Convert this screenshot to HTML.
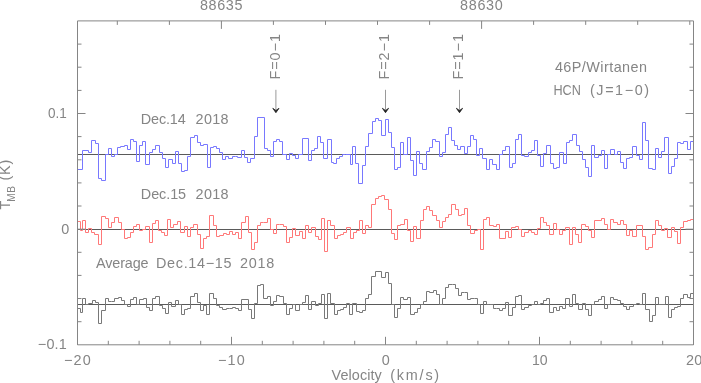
<!DOCTYPE html>
<html><head><meta charset="utf-8"><style>
html,body{margin:0;padding:0;background:#fff;}
body{width:701px;height:383px;overflow:hidden;}
svg{display:block;}
</style></head><body>
<svg width="701" height="383" viewBox="0 0 701 383"><rect width="701" height="383" fill="#fff"/><path d="M77.5,154.5H693.5M77.5,229.5H693.5M77.5,304.5H693.5" stroke="#5a5a5a" stroke-width="1" fill="none"/><path d="M77.5,169.5H82.5V150.5H88.5V152.5H91.5V140.5H95.5V143.5H98.5V178.5H101.5V180.5H105.5V154.5H108.5V148.5H111.5V156.5H114.5V154.5H117.5V147.5H120.5V146.5H124.5V145.5H127.5V149.5H130.5V139.5H133.5V141.5H136.5V161.5H139.5V145.5H142.5V141.5H145.5V164.5H149.5V152.5H152.5V149.5H155.5V145.5H159.5V152.5H162.5V158.5H165.5V167.5H168.5V159.5H172.5V163.5H175.5V151.5H178.5V163.5H181.5V171.5H184.5V170.5H187.5V156.5H190.5V137.5H194.5V135.5H197.5V142.5H200.5V145.5H203.5V144.5H207.5V167.5H210.5V147.5H213.5V146.5H216.5V148.5H219.5V152.5H222.5V159.5H225.5V156.5H228.5V158.5H232.5V156.5H235.5V156.5H237.5V157.5H241.5V150.5H244.5V157.5H247.5V162.5H250.5V158.5H254.5V136.5H257.5V117.5H264.5V148.5H267.5V150.5H270.5V156.5H273.5V141.5H276.5V139.5H279.5V141.5H282.5V154.5H286.5V159.5H289.5V153.5H292.5V155.5H295.5V158.5H298.5V154.5H302.5V138.5H308.5V160.5H311.5V150.5H314.5V148.5H317.5V136.5H320.5V142.5H323.5V158.5H327.5V139.5H331.5V162.5H333.5V163.5H336.5V158.5H339.5V156.5H342.5V154.5H345.5V154.5H350.5V164.5H352.5V146.5H355.5V163.5H358.5V183.5H362.5V165.5H365.5V146.5H368.5V133.5H372.5V121.5H375.5V118.5H378.5V120.5H381.5V135.5H385.5V119.5H388.5V132.5H391.5V147.5H394.5V169.5H397.5V167.5H400.5V142.5H403.5V154.5H407.5V137.5H410.5V160.5H413.5V175.5H416.5V151.5H419.5V163.5H422.5V169.5H426.5V151.5H429.5V147.5H432.5V139.5H435.5V141.5H439.5V156.5H442.5V152.5H445.5V134.5H448.5V127.5H451.5V140.5H454.5V145.5H457.5V149.5H460.5V146.5H464.5V153.5H467.5V146.5H470.5V135.5H473.5V139.5H476.5V155.5H479.5V148.5H482.5V158.5H486.5V169.5H489.5V159.5H492.5V164.5H496.5V169.5H499.5V154.5H502.5V150.5H505.5V146.5H509.5V167.5H512.5V163.5H515.5V139.5H518.5V134.5H521.5V155.5H524.5V156.5H528.5V152.5H531.5V150.5H534.5V140.5H537.5V155.5H540.5V166.5H543.5V153.5H546.5V145.5H550.5V163.5H553.5V168.5H556.5V167.5H559.5V152.5H563.5V163.5H566.5V142.5H569.5V140.5H572.5V134.5H576.5V145.5H579.5V151.5H582.5V159.5H585.5V167.5H588.5V176.5H591.5V145.5H594.5V157.5H598.5V155.5H601.5V150.5H604.5V168.5H607.5V154.5H610.5V149.5H614.5V154.5H617.5V151.5H620.5V162.5H623.5V168.5H626.5V158.5H629.5V157.5H632.5V146.5H636.5V155.5H639.5V159.5H642.5V122.5H645.5V140.5H648.5V168.5H652.5V169.5H655.5V148.5H658.5V157.5H661.5V151.5H664.5V137.5H668.5V173.5H671.5V166.5H674.5V158.5H677.5V142.5H680.5V143.5H683.5V141.5H687.5V149.5H690.5V141.5H693.5" stroke="#7878ff" stroke-width="1" fill="none"/><path d="M77.5,221.5H80.5V230.5H82.5V220.5H85.5V232.5H88.5V228.5H91.5V232.5H94.5V234.5H98.5V244.5H101.5V216.5H105.5V218.5H108.5V227.5H111.5V222.5H114.5V217.5H118.5V222.5H121.5V229.5H124.5V238.5H127.5V237.5H130.5V232.5H133.5V226.5H136.5V224.5H139.5V230.5H142.5V229.5H145.5V226.5H149.5V242.5H152.5V223.5H155.5V220.5H158.5V230.5H161.5V232.5H164.5V235.5H167.5V219.5H170.5V227.5H173.5V224.5H177.5V221.5H180.5V232.5H184.5V226.5H187.5V236.5H190.5V227.5H193.5V224.5H197.5V234.5H200.5V248.5H203.5V238.5H206.5V236.5H209.5V215.5H213.5V225.5H216.5V236.5H219.5V235.5H223.5V233.5H226.5V234.5H229.5V231.5H232.5V234.5H235.5V232.5H238.5V238.5H241.5V222.5H245.5V216.5H248.5V232.5H251.5V249.5H254.5V242.5H257.5V225.5H260.5V222.5H263.5V222.5H267.5V218.5H270.5V229.5H273.5V233.5H276.5V224.5H279.5V224.5H283.5V226.5H286.5V242.5H289.5V237.5H292.5V228.5H295.5V235.5H299.5V231.5H302.5V238.5H305.5V225.5H308.5V232.5H311.5V227.5H315.5V236.5H318.5V239.5H321.5V218.5H324.5V251.5H327.5V220.5H330.5V225.5H334.5V238.5H337.5V235.5H340.5V234.5H343.5V232.5H346.5V227.5H350.5V238.5H353.5V232.5H356.5V230.5H359.5V220.5H362.5V233.5H365.5V225.5H368.5V227.5H371.5V204.5H375.5V198.5H378.5V196.5H381.5V195.5H384.5V199.5H388.5V209.5H391.5V233.5H394.5V239.5H397.5V225.5H400.5V224.5H404.5V219.5H407.5V230.5H410.5V241.5H413.5V226.5H416.5V238.5H420.5V220.5H423.5V209.5H426.5V206.5H429.5V210.5H432.5V215.5H436.5V220.5H439.5V227.5H442.5V221.5H445.5V217.5H448.5V214.5H451.5V204.5H455.5V209.5H458.5V215.5H461.5V214.5H464.5V208.5H467.5V225.5H470.5V233.5H474.5V230.5H477.5V229.5H480.5V249.5H483.5V219.5H486.5V217.5H489.5V225.5H493.5V226.5H496.5V224.5H499.5V238.5H505.5V231.5H508.5V237.5H511.5V227.5H515.5V226.5H518.5V229.5H521.5V236.5H524.5V232.5H528.5V230.5H531.5V232.5H534.5V234.5H537.5V228.5H540.5V217.5H543.5V222.5H546.5V225.5H549.5V234.5H553.5V223.5H556.5V229.5H559.5V234.5H562.5V230.5H565.5V227.5H569.5V244.5H572.5V227.5H575.5V234.5H578.5V242.5H581.5V224.5H585.5V226.5H588.5V230.5H591.5V237.5H594.5V220.5H601.5V218.5H604.5V224.5H607.5V229.5H610.5V219.5H613.5V222.5H617.5V224.5H620.5V220.5H623.5V224.5H626.5V235.5H629.5V230.5H632.5V236.5H636.5V225.5H642.5V236.5H645.5V249.5H648.5V247.5H652.5V234.5H655.5V220.5H658.5V225.5H661.5V230.5H664.5V228.5H667.5V237.5H671.5V227.5H674.5V231.5H677.5V243.5H680.5V227.5H683.5V221.5H687.5V220.5H690.5V219.5H693.5" stroke="#ff7878" stroke-width="1" fill="none"/><path d="M77.5,308.5H80.5V312.5H82.5V298.5H85.5V304.5H88.5V303.5H92.5V300.5H95.5V302.5H98.5V323.5H101.5V310.5H105.5V298.5H108.5V301.5H111.5V301.5H114.5V298.5H118.5V297.5H121.5V300.5H124.5V304.5H127.5V306.5H130.5V299.5H133.5V297.5H136.5V304.5H139.5V299.5H143.5V298.5H146.5V307.5H149.5V310.5H152.5V298.5H155.5V296.5H159.5V305.5H162.5V308.5H165.5V313.5H168.5V302.5H171.5V306.5H175.5V300.5H178.5V304.5H181.5V314.5H184.5V309.5H187.5V308.5H190.5V296.5H194.5V293.5H197.5V302.5H200.5V310.5H203.5V305.5H206.5V314.5H209.5V293.5H213.5V298.5H216.5V305.5H219.5V307.5H222.5V309.5H226.5V308.5H229.5V308.5H232.5V307.5H235.5V308.5H238.5V310.5H241.5V299.5H248.5V309.5H251.5V318.5H254.5V303.5H257.5V285.5H260.5V284.5H263.5V298.5H267.5V296.5H270.5V305.5H273.5V301.5H276.5V295.5H279.5V296.5H283.5V303.5H286.5V314.5H289.5V308.5H292.5V304.5H295.5V310.5H299.5V304.5H302.5V302.5H305.5V295.5H308.5V309.5H311.5V301.5H315.5V305.5H318.5V303.5H321.5V294.5H324.5V318.5H327.5V293.5H330.5V303.5H334.5V314.5H337.5V310.5H340.5V309.5H343.5V307.5H346.5V303.5H349.5V314.5H352.5V303.5H356.5V311.5H359.5V312.5H362.5V310.5H365.5V298.5H368.5V294.5H371.5V276.5H375.5V271.5H381.5V277.5H385.5V272.5H388.5V283.5H391.5V304.5H394.5V317.5H397.5V308.5H400.5V297.5H403.5V299.5H407.5V297.5H410.5V314.5H414.5V312.5H417.5V308.5H420.5V304.5H423.5V301.5H426.5V291.5H429.5V292.5H433.5V290.5H436.5V294.5H439.5V304.5H442.5V298.5H445.5V287.5H448.5V284.5H452.5V284.5H455.5V288.5H458.5V295.5H461.5V292.5H464.5V292.5H467.5V299.5H470.5V298.5H474.5V298.5H477.5V304.5H480.5V313.5H483.5V301.5H486.5V304.5H489.5V304.5H493.5V308.5H496.5V308.5H499.5V310.5H502.5V308.5H505.5V302.5H508.5V315.5H512.5V307.5H515.5V296.5H518.5V295.5H521.5V309.5H524.5V307.5H528.5V305.5H531.5V304.5H534.5V301.5H537.5V304.5H540.5V303.5H543.5V300.5H546.5V298.5H549.5V312.5H553.5V307.5H556.5V310.5H559.5V306.5H562.5V308.5H565.5V298.5H569.5V306.5H572.5V294.5H575.5V303.5H578.5V309.5H582.5V303.5H585.5V309.5H588.5V315.5H591.5V304.5H594.5V301.5H598.5V299.5H601.5V296.5H604.5V308.5H607.5V304.5H610.5V297.5H613.5V299.5H617.5V300.5H620.5V303.5H623.5V306.5H626.5V309.5H629.5V306.5H633.5V304.5H636.5V303.5H639.5V304.5H642.5V293.5H645.5V309.5H649.5V321.5H652.5V315.5H655.5V297.5H658.5V304.5H665.5V296.5H668.5V317.5H671.5V309.5H674.5V307.5H677.5V306.5H680.5V298.5H683.5V294.5H687.5V297.5H690.5V293.5H693.5" stroke="#787878" stroke-width="1" fill="none"/><path d="M77.5,20.9H693.5V344.8H77.5ZM77.5,344.8v-8M108.3,344.8v-4M139.1,344.8v-4M169.9,344.8v-4M200.7,344.8v-4M231.5,344.8v-8M262.3,344.8v-4M293.1,344.8v-4M323.9,344.8v-4M354.7,344.8v-4M385.5,344.8v-8M416.3,344.8v-4M447.1,344.8v-4M477.9,344.8v-4M508.7,344.8v-4M539.5,344.8v-8M570.3,344.8v-4M601.1,344.8v-4M631.9,344.8v-4M662.7,344.8v-4M693.5,344.8v-8M117.3,20.9v4M169.4,20.9v4M221.4,20.9v8M273.4,20.9v4M325.5,20.9v4M377.5,20.9v4M429.6,20.9v4M481.6,20.9v8M533.6,20.9v4M585.7,20.9v4M637.7,20.9v4M689.8,20.9v4M77.5,321.7h4M693.5,321.7h-4M77.5,298.5h4M693.5,298.5h-4M77.5,275.4h4M693.5,275.4h-4M77.5,252.3h4M693.5,252.3h-4M77.5,229.2h8M693.5,229.2h-8M77.5,206.0h4M693.5,206.0h-4M77.5,182.9h4M693.5,182.9h-4M77.5,159.8h4M693.5,159.8h-4M77.5,136.6h4M693.5,136.6h-4M77.5,113.5h8M693.5,113.5h-8M77.5,90.4h4M693.5,90.4h-4M77.5,67.2h4M693.5,67.2h-4M77.5,44.1h4M693.5,44.1h-4" stroke="#858585" stroke-width="1" fill="none"/><path d="M275.9,89.8V110.7" stroke="#9a9a9a" stroke-width="1" fill="none"/><path d="M272.79999999999995,108.3L275.9,112.7L279.0,108.3L275.9,110.5Z" fill="#222" stroke="#222" stroke-width="0.8" stroke-linejoin="round"/><path d="M385.5,89.8V110.7" stroke="#9a9a9a" stroke-width="1" fill="none"/><path d="M382.4,108.3L385.5,112.7L388.6,108.3L385.5,110.5Z" fill="#222" stroke="#222" stroke-width="0.8" stroke-linejoin="round"/><path d="M459.5,89.8V110.7" stroke="#9a9a9a" stroke-width="1" fill="none"/><path d="M456.4,108.3L459.5,112.7L462.6,108.3L459.5,110.5Z" fill="#222" stroke="#222" stroke-width="0.8" stroke-linejoin="round"/><g font-family="Liberation Sans, sans-serif" fill="#858585" style="opacity:0.999"><text x="140.8" y="123.5" font-size="14.4" letter-spacing="-0.14">Dec.14</text><text x="195.6" y="123.5" font-size="14.4" letter-spacing="0.30">2018</text><text x="140.8" y="198.5" font-size="14.4" letter-spacing="-0.06">Dec.15</text><text x="195.6" y="198.5" font-size="14.4" letter-spacing="0.30">2018</text><text x="96.0" y="267.7" font-size="14.4" letter-spacing="-0.13">Average</text><text x="156.0" y="267.7" font-size="14.4" letter-spacing="0.68">Dec.14−15</text><text x="239.9" y="267.7" font-size="14.4" letter-spacing="0.77">2018</text><text x="554.9" y="71.7" font-size="14.4" letter-spacing="0.45">46P/Wirtanen</text><g transform="translate(554.3,0) scale(0.880,1) translate(-554.3,0)"><text x="553.3" y="95.3" font-size="14.4" letter-spacing="0.00">HCN</text></g><text x="590.0" y="95.3" font-size="14.4" letter-spacing="1.57">(J=1−0)</text><text x="331.6" y="379.9" font-size="14.4" letter-spacing="0.07">Velocity</text><text x="390.3" y="379.9" font-size="14.4" letter-spacing="1.78">(km/s)</text><g transform="translate(48.0,0) scale(0.940,1) translate(-48.0,0)"><text x="48.0" y="118.0" font-size="14.4" letter-spacing="0.00">0.1</text></g><text x="61.3" y="233.8" font-size="14.4" letter-spacing="0.00">0</text><text x="37.8" y="349.2" font-size="14.4" letter-spacing="0.20">−0.1</text><text x="64.0" y="365.0" font-size="14.4" letter-spacing="1.15">−20</text><text x="218.0" y="365.0" font-size="14.4" letter-spacing="1.15">−10</text><text x="381.8" y="365.0" font-size="14.4" letter-spacing="0.00">0</text><g transform="translate(532.9,0) scale(0.980,1) translate(-532.9,0)"><text x="531.9" y="365.0" font-size="14.4" letter-spacing="0.00">10</text></g><text x="685.9" y="365.0" font-size="14.4" letter-spacing="0.30">20</text><text x="199.9" y="9.8" font-size="14.4" letter-spacing="0.65">88635</text><text x="460.1" y="9.8" font-size="14.4" letter-spacing="0.65">88630</text><g transform="translate(279.6,79.6) rotate(-90)"><text x="0.0" y="0.0" font-size="14.4" letter-spacing="0.97">F=0−1</text></g><g transform="translate(388.6,79.6) rotate(-90)"><text x="0.0" y="0.0" font-size="14.4" letter-spacing="0.97">F=2−1</text></g><g transform="translate(462.6,79.6) rotate(-90)"><text x="0.0" y="0.0" font-size="14.4" letter-spacing="0.97">F=1−1</text></g><g transform="translate(9.6,209.6) rotate(-90)"><text x="0" y="0" font-size="14.4" letter-spacing="0.9"><tspan letter-spacing="-0.9">T</tspan><tspan font-size="10" dy="4.9" letter-spacing="0.6">MB</tspan><tspan dy="-4.9" letter-spacing="0.9"> (K)</tspan></text></g></g></svg>
</body></html>
